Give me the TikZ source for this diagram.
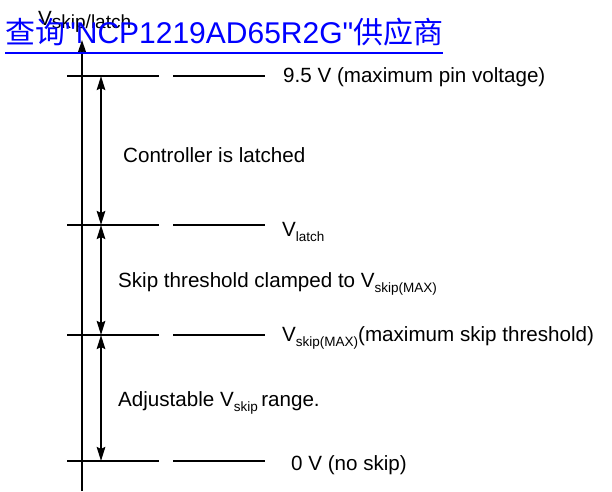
\documentclass[tikz,border=0pt]{standalone}
\usepackage{fontspec}
\setmainfont{Liberation Sans}
\newfontfamily\cjk{Noto Sans CJK SC}
\newfontfamily\wmfont[Ligatures=TeXOff]{Liberation Sans}
\usetikzlibrary{arrows.meta}
\newcommand\lowsub[1]{\raisebox{-5pt}{\fontsize{13.5}{13.5}\selectfont #1}}
\tikzset{
  lvl/.style={line width=2.2pt},
  dim/.style={line width=2.2pt,{Stealth[length=14pt,width=8.5pt,inset=2pt]}-{Stealth[length=14pt,width=8.5pt,inset=2pt]}},
  lbl/.style={anchor=base west,inner sep=0pt,font=\fontsize{20.6}{24}\selectfont},
}
\begin{document}
\begin{tikzpicture}[x=1pt,y=-1pt]
\useasboundingbox (0,0) rectangle (612,491);
% axis
\coordinate (axb) at (82,491);
\coordinate (axt) at (82,40);
\draw[line width=2.2pt,-{Stealth[length=13pt,width=8.5pt,inset=2pt]}] (axb) -- (axt);
\node[lbl] (axl) at (38,25) {V\raisebox{-3pt}{\fontsize{19}{19}\selectfont skip/latch}};
% levels
\foreach \n/\y in {a/76,b/225,c/335,d/461}{
  \coordinate (\n1) at (67,\y);
  \coordinate (\n2) at (159,\y);
  \coordinate (\n3) at (173,\y);
  \coordinate (\n4) at (265,\y);
  \coordinate (\n) at (101,\y);
  \draw[lvl] (\n1) -- (\n2);
  \draw[lvl] (\n3) -- (\n4);
}
\draw[dim] (a) -- (b);
\draw[dim] (b) -- (c);
\draw[dim] (c) -- (d);
% labels
\node[lbl] (t1) at (283,82) {9.5 V (maximum pin voltage)};
\node[lbl] (t2) at (123,162) {Controller is latched};
\node[lbl] (t3) at (282,236) {V\lowsub{latch}};
\node[lbl] (t4) at (118,287) {Skip threshold clamped to V\lowsub{skip(MAX)}};
\node[lbl] (t5) at (282,341) {V\lowsub{skip(MAX)}(maximum skip threshold)};
\node[lbl] (t6) at (118,406) {Adjustable V\lowsub{skip}\,range.};
\node[lbl] (t7) at (291,470) {0 V (no skip)};
% watermark
\node[anchor=base west,inner sep=0pt,text=blue,font=\fontsize{30}{34}\wmfont] (wm) at (5,43) {{\cjk 查询}"NCP1219AD65R2G"{\cjk 供应商}};
\coordinate (u1) at (5,53);
\coordinate (u2) at (443,53);
\draw[blue,line width=2pt] (u1) -- (u2);
\end{tikzpicture}
\end{document}
